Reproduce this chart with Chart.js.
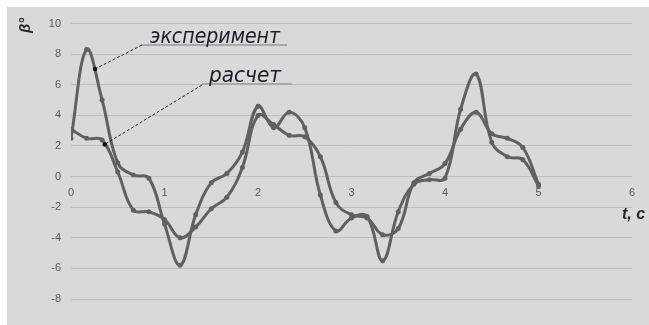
<!DOCTYPE html>
<html>
<head>
<meta charset="utf-8">
<script src="https://cdn.jsdelivr.net/npm/chart.js@4"></script>
<style>
  html, body { margin: 0; padding: 0; background: #ffffff; }
  #wrap { position: absolute; left: 7px; top: 7px; width: 642px; height: 318px; background: #d9d9d9; }
  canvas { display: block; }
</style>
</head>
<body>
<div id="wrap"><canvas id="chart" width="642" height="318"></canvas></div>
<script>
// time, s
const times = [0, 0.167, 0.333, 0.5, 0.667, 0.833, 1.0, 1.167, 1.333, 1.5,
               1.667, 1.833, 2.0, 2.167, 2.333, 2.5, 2.667, 2.833, 3.0, 3.167,
               3.333, 3.5, 3.667, 3.833, 4.0, 4.167, 4.333, 4.5, 4.667, 4.833, 5.0];
// angle β, degrees — measured
const experiment = [2.5, 8.3, 5.0, 0.9, 0.1, -0.1, -3.1, -5.8, -2.5, -0.4,
                    0.2, 1.6, 4.6, 3.2, 4.2, 3.2, -1.2, -3.55, -2.7, -2.6,
                    -5.5, -2.3, -0.5, -0.2, -0.1, 4.4, 6.7, 2.25, 1.3, 1.1, -0.6];
// angle β, degrees — computed
const calculation = [3.1, 2.5, 2.4, 0.3, -2.2, -2.3, -2.8, -4.0, -3.3, -2.1,
                     -1.35, 0.6, 4.0, 3.4, 2.7, 2.6, 1.3, -1.7, -2.5, -2.7,
                     -3.8, -3.4, -0.4, 0.2, 0.85, 3.1, 4.2, 2.8, 2.5, 1.9, -0.5];
const seriesNames = ['эксперимент', 'расчет'];
const xTicks = [0, 1, 2, 3, 4, 5, 6];
const yTicks = [-8, -6, -4, -2, 0, 2, 4, 6, 8, 10];
const axisTitles = ['t, c', 'β°'];
// where each callout leader touches its curve (t, β)
const calloutTargets = [[0.257, 7.03], [0.36, 2.1]];

const lineColor = '#606060';
const toPoints = vals => times.map((t, i) => ({ x: t, y: vals[i] }));

// text of a given width, squeezed horizontally if needed
function fitText(ctx, text, x, y, width) {
  const w = ctx.measureText(text).width;
  ctx.save();
  ctx.translate(x, y);
  ctx.scale(width / w, 1);
  ctx.fillText(text, 0, 0);
  ctx.restore();
}

const decorations = {
  id: 'decorations',
  afterDatasetsDraw(chart) {
    const ctx = chart.ctx;
    const xs = chart.scales.x, ys = chart.scales.y;

    // callout labels with underlines and dashed leaders
    const callouts = [
      { text: seriesNames[0], tx: 143, ty: 36, tw: 130, ux0: 135, ux1: 280, uy: 38, lx: 135, ly: 38 },
      { text: seriesNames[1], tx: 202, ty: 75, tw: 72, ux0: 195, ux1: 285, uy: 77, lx: 195, ly: 78 }
    ];
    callouts.forEach((c, i) => {
      ctx.save();
      ctx.strokeStyle = '#a8a8a8';
      ctx.lineWidth = 2;
      ctx.beginPath();
      ctx.moveTo(c.ux0, c.uy);
      ctx.lineTo(c.ux1, c.uy);
      ctx.stroke();

      ctx.font = 'italic 22px "DejaVu Sans Condensed", "DejaVu Sans", sans-serif';
      ctx.fillStyle = '#1c1c26';
      ctx.textBaseline = 'alphabetic';
      fitText(ctx, c.text, c.tx, c.ty, c.tw);

      const px = xs.getPixelForValue(calloutTargets[i][0]);
      const py = ys.getPixelForValue(calloutTargets[i][1]);
      ctx.strokeStyle = '#222222';
      ctx.lineWidth = 1;
      ctx.setLineDash([3, 2]);
      ctx.beginPath();
      ctx.moveTo(c.lx, c.ly);
      ctx.lineTo(px, py);
      ctx.stroke();
      ctx.setLineDash([]);
      ctx.fillStyle = '#111111';
      ctx.beginPath();
      ctx.arc(px, py, 2.2, 0, Math.PI * 2);
      ctx.fill();
      ctx.restore();
    });

    // axis titles
    ctx.save();
    ctx.fillStyle = '#262626';
    ctx.font = 'bold italic 16px "Liberation Sans", Arial, sans-serif';
    ctx.textBaseline = 'alphabetic';
    ctx.textAlign = 'left';
    ctx.fillText(axisTitles[0], 615, 212);
    ctx.translate(23, 26);
    ctx.rotate(-Math.PI / 2);
    ctx.font = 'bold italic 15px "Liberation Sans", Arial, sans-serif';
    ctx.fillText(axisTitles[1], 0, 0);
    ctx.restore();
  }
};

new Chart(document.getElementById('chart'), {
  type: 'scatter',
  data: {
    datasets: [
      { label: seriesNames[0], data: toPoints(experiment) },
      { label: seriesNames[1], data: toPoints(calculation) }
    ].map(d => Object.assign(d, {
      showLine: true,
      borderColor: lineColor,
      backgroundColor: lineColor,
      borderWidth: 3,
      pointRadius: 2.5,
      pointHoverRadius: 2.5,
      pointBorderWidth: 0,
      tension: 0.4
    }))
  },
  options: {
    responsive: false,
    animation: false,
    devicePixelRatio: 1,
    layout: { padding: { left: 0, right: 17, top: 13, bottom: 26 } },
    plugins: { legend: { display: false }, tooltip: { enabled: false } },
    scales: {
      x: {
        type: 'linear',
        position: { y: 0 },
        min: 0, max: 6,
        afterBuildTicks: s => { s.ticks = xTicks.map(v => ({ value: v })); },
        grid: { display: false },
        border: { display: false },
        ticks: { padding: 2, color: '#595959', font: { family: '"Liberation Sans", Arial, sans-serif', size: 11 } }
      },
      y: {
        type: 'linear',
        position: 'left',
        min: -8, max: 10,
        afterBuildTicks: s => { s.ticks = yTicks.map(v => ({ value: v })); },
        afterFit: s => { s.width = 64; },
        grid: { color: '#bdbdbd', lineWidth: 1, drawTicks: false },
        border: { display: false },
        ticks: { padding: 10, color: '#595959', font: { family: '"Liberation Sans", Arial, sans-serif', size: 11 } }
      }
    }
  },
  plugins: [decorations]
});
</script>
</body>
</html>
